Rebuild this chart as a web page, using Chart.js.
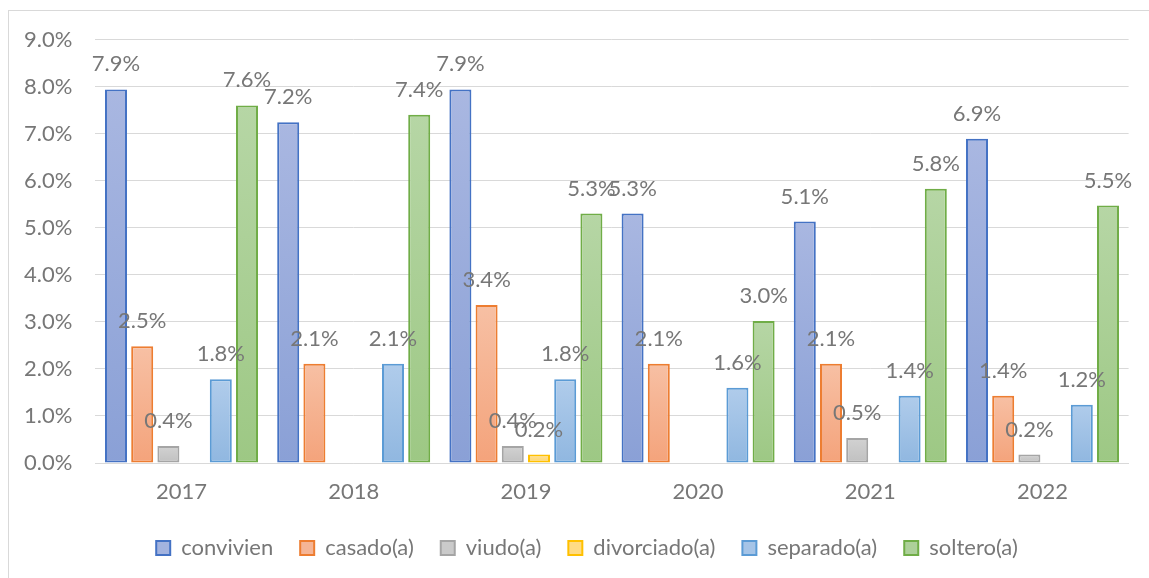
<!DOCTYPE html>
<html>
<head>
<meta charset="utf-8">
<script src="https://cdn.jsdelivr.net/npm/chart.js@4.4.1/dist/chart.umd.min.js"></script>
<style>
  html, body { margin: 0; padding: 0; background: #ffffff; overflow: hidden; width: 1149px; height: 578px; }
  #frame { position: absolute; left: 8px; top: 10px; width: 1300px; height: 800px; border: 1px solid #d9d9d9; box-sizing: border-box; }
  #c { position: absolute; left: 0; top: 0; }
</style>
</head>
<body>
<div id="frame"></div>
<canvas id="c" width="1149" height="578"></canvas>
<script>
// ---- data (percent values) ----
const categories = ['2017', '2018', '2019', '2020', '2021', '2022'];
const convivien  = [7.94, 7.24, 7.94, 5.30, 5.13, 6.89];
const casado     = [2.48, 2.11, 3.36, 2.11, 2.11, 1.43];
const viudo      = [0.36, null, 0.36, null, 0.53, 0.18];
const divorciado = [null, null, 0.18, null, null, null];
const separado   = [1.78, 2.11, 1.78, 1.60, 1.43, 1.24];
const soltero    = [7.60, 7.40, 5.30, 3.02, 5.83, 5.47];
const seriesNames = ['convivien', 'casado(a)', 'viudo(a)', 'divorciado(a)', 'separado(a)', 'soltero(a)'];
const yTicks = [0, 1, 2, 3, 4, 5, 6, 7, 8, 9];

// ---- styles ----
const styles = [
  { border: '#4472c4', top: '#a9b7e1', bottom: '#8aa0d6', legend: '#a3b3df' },
  { border: '#ed7d31', top: '#f7c0a4', bottom: '#f4a37b', legend: '#f5b596' },
  { border: '#a5a5a5', top: '#d2d2d2', bottom: '#c0c0c0', legend: '#cacaca' },
  { border: '#ffc000', top: '#ffe29a', bottom: '#ffd466', legend: '#ffdb85' },
  { border: '#5b9bd5', top: '#b0cceb', bottom: '#90b7e0', legend: '#a5c4e7' },
  { border: '#70ad47', top: '#b6d6a5', bottom: '#9dc884', legend: '#add09a' }
];
const FONT = 'Lato';
const FS = 22;
const TEXT = '#777777';
const LEGEND_CENTER = 587;
const LEGEND_PAD = 27;

function gradientFor(i) {
  return function (ctx) {
    const chart = ctx.chart;
    const area = chart.chartArea;
    if (!area || ctx.type !== 'data' || ctx.parsed == null || ctx.parsed.y == null) return styles[i].legend;
    const yScale = chart.scales.y;
    const top = yScale.getPixelForValue(ctx.parsed.y);
    const bottom = yScale.getPixelForValue(0);
    if (!isFinite(top) || !isFinite(bottom) || bottom - top < 1) return styles[i].legend;
    const g = chart.ctx.createLinearGradient(0, top, 0, bottom);
    g.addColorStop(0, styles[i].top);
    g.addColorStop(1, styles[i].bottom);
    return g;
  };
}

const allSeries = [convivien, casado, viudo, divorciado, separado, soltero];
const datasets = allSeries.map((vals, i) => ({
  label: seriesNames[i],
  data: vals,
  backgroundColor: gradientFor(i),
  borderColor: styles[i].border,
  borderWidth: 2,
  borderSkipped: false,
  categoryPercentage: 0.913,
  barPercentage: 0.84
}));

const valueLabels = {
  id: 'valueLabels',
  afterDatasetsDraw(chart) {
    const ctx = chart.ctx;
    ctx.save();
    ctx.font = FS + 'px ' + FONT;
    ctx.fillStyle = TEXT;
    ctx.textAlign = 'center';
    ctx.textBaseline = 'middle';
    chart.data.datasets.forEach((ds, di) => {
      const meta = chart.getDatasetMeta(di);
      meta.data.forEach((el, idx) => {
        const v = ds.data[idx];
        if (v == null) return;
        ctx.fillText(v.toFixed(1) + '%', el.x, el.y - 25);
      });
    });
    ctx.restore();
  }
};

const legendShift = {
  id: 'legendShift',
  afterLayout(chart) {
    const lg = chart.legend;
    if (!lg) return;
    const mid = (lg.left + lg.right) / 2;
    const dx = LEGEND_CENTER - mid;
    lg.left += dx;
    lg.right += dx;
  }
};

new Chart(document.getElementById('c'), {
  type: 'bar',
  data: { labels: categories, datasets },
  plugins: [valueLabels, legendShift],
  options: {
    responsive: false,
    animation: false,
    layout: { padding: { top: 39.5, left: 0, right: 20.4, bottom: 9 } },
    plugins: {
      tooltip: { enabled: false },
      legend: {
        position: 'bottom',
        labels: {
          font: { family: FONT, size: FS },
          color: TEXT,
          boxWidth: 14,
          boxHeight: 14,
          padding: LEGEND_PAD,
          generateLabels(chart) {
            return chart.data.datasets.map((ds, i) => ({
              text: ds.label,
              fillStyle: styles[i].legend,
              strokeStyle: styles[i].border,
              lineWidth: 2,
              fontColor: TEXT,
              datasetIndex: i,
              hidden: false
            }));
          }
        }
      }
    },
    scales: {
      x: {
        grid: { display: false, drawTicks: false, tickLength: 0 },
        border: { display: true, color: '#d9d9d9', width: 1 },
        ticks: { font: { family: FONT, size: FS }, color: TEXT, padding: 16 },
        afterFit(scale) { scale.height = 74 - LEGEND_PAD; }
      },
      y: {
        min: 0,
        max: 9,
        afterBuildTicks(scale) { scale.ticks = yTicks.map(v => ({ value: v })); },
        grid: { color: '#d9d9d9', lineWidth: 1, drawTicks: false, tickLength: 0 },
        border: { display: false },
        ticks: {
          font: { family: FONT, size: FS },
          color: TEXT,
          padding: 23,
          callback: v => Number(v).toFixed(1) + '%'
        },
        afterFit(scale) { scale.width = 95.4; }
      }
    }
  }
});
</script>
</body>
</html>
